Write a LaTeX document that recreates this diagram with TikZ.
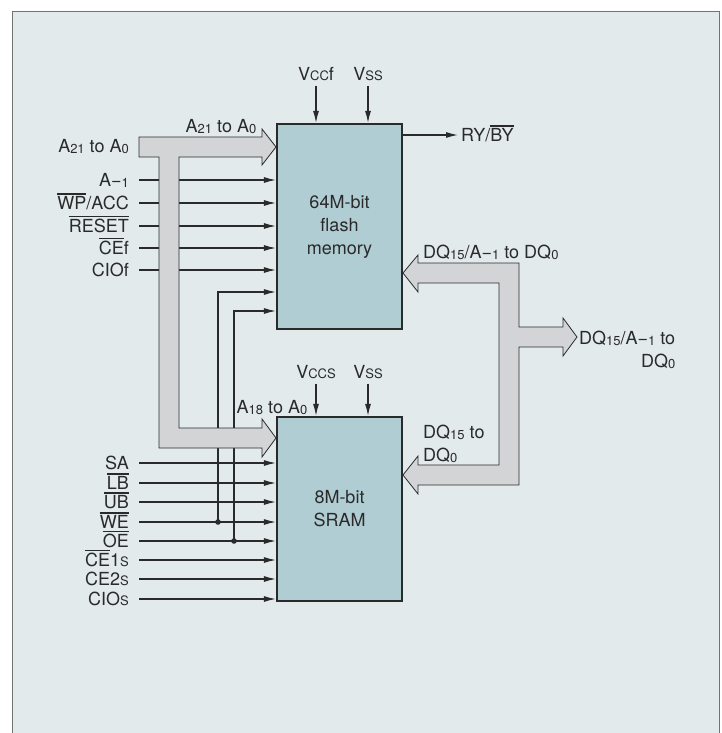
\documentclass[tikz,border=0pt]{standalone}
\usepackage{fontspec}
\setmainfont{TeX Gyre Heros}
\usetikzlibrary{arrows.meta,positioning,calc}
\definecolor{panel}{HTML}{E2EAEC}
\definecolor{chip}{HTML}{B0CDD3}
\definecolor{busgray}{HTML}{D3D4D6}
\definecolor{ink}{HTML}{2A2A2A}
\tikzset{>={Latex[length=12pt,width=6pt]}}
\newcommand{\lo}[1]{\raisebox{-1pt}{\fontsize{13}{13}\selectfont #1}}
\newcommand{\sm}[1]{{\fontsize{13}{13}\selectfont #1}}
\newcommand{\ovl}[1]{\leavevmode\vbox{\hrule height 1.1pt\kern 1.8pt\hbox{#1}}}
\newcommand{\mi}{\char"2212\relax}
\tikzset{
  chipbox/.style={draw=ink, line width=2.2pt, fill=chip, minimum width=125pt,
    inner sep=0pt, align=center, text=ink},
  sig/.style={->, draw=ink, line width=1.2pt},
  txt/.style={text=ink, inner sep=0pt, text height=13pt, text depth=0pt},
  pin/.style={txt, anchor=east},
  bus/.style={fill=busgray, draw=ink, line width=0.8pt}
}

\begin{document}
\begin{tikzpicture}[x=1pt,y=-1pt,font=\fontsize{18}{23}\selectfont]
  \useasboundingbox (0,0) rectangle (721,733);
  \clip (0,0) rectangle (721,733);
  \filldraw[fill=panel, draw=black!55, line width=0.8pt] (12,11) rectangle (719,745);

  % the two chips
  \node[chipbox, minimum height=205pt] (flash) at (339.5,226.5) {64M-bit\\flash\\memory};
  \node[chipbox, minimum height=184pt] (sram) at (339.5,509) {8M-bit\\SRAM};

  % control pins of the flash
  \foreach \name/\yy/\txt in {fa/180/{A\mi\lo{1}}, fwp/203/{\ovl{WP}/ACC},
      frst/226/{\ovl{RESET}}, fce/248/{\ovl{CE}f}, fcio/270/{CIOf}} {
    \node[pin] (\name) at (129,\yy) {\txt};
    \draw[sig] ([xshift=10pt]\name.east) -- (\name.east -| flash.west);
  }

  % control pins of the SRAM
  \foreach \name/\yy/\txt in {ssa/463/{SA}, slb/483/{\ovl{LB}}, sub/502/{\ovl{UB}},
      swe/522/{\ovl{WE}}, soe/541/{\ovl{OE}}, sce1/560/{\ovl{CE}1\sm{S}},
      sce2/579/{CE2\sm{S}}, scio/599/{CIO\sm{S}}} {
    \node[pin] (\name) at (129,\yy) {\txt};
    \draw[sig] ([xshift=10pt]\name.east) -- (\name.east -| sram.west);
  }

  % WE and OE shared with the flash
  \coordinate (jwe) at (swe.east -| 218,0);
  \coordinate (joe) at (soe.east -| 234,0);
  \coordinate (fwe) at (flash.west |- 0,292);
  \coordinate (foe) at (flash.west |- 0,311);
  \draw[sig] (jwe) |- (fwe);
  \draw[sig] (joe) |- (foe);
  \fill[ink] (jwe) circle (2.8pt) (joe) circle (2.8pt);

  % address bus
  \filldraw[bus] (139,137) -- (262,137) -- (262,129) -- (276,147) -- (262,165)
    -- (262,157) -- (179,157) -- (179,428) -- (262,428) -- (262,419) -- (276,438)
    -- (262,457) -- (262,448) -- (159,448) -- (159,157) -- (139,157) -- cycle;
  \node[pin] (ain) at (129,146) {A\lo{21} to A\lo{0}};
  \node[txt] (afl) at (221,126) {A\lo{21} to A\lo{0}};
  \node[txt] (asr) at (272,407) {A\lo{18} to A\lo{0}};

  % data bus
  \filldraw[bus] (403,273) -- (418,255) -- (418,263) -- (519,263) -- (519,327)
    -- (563,327) -- (563,318) -- (577,337) -- (563,356) -- (563,347) -- (519,347)
    -- (519,485) -- (418,485) -- (418,494) -- (403,475) -- (418,456) -- (418,465)
    -- (499,465) -- (499,283) -- (418,283) -- (418,292) -- cycle;
  \node[txt, anchor=west] (dqf) at (423,252) {DQ\lo{15}/A\mi\lo{1} to DQ\lo{0}};
  \node[text=ink, inner sep=0pt, align=right, anchor=west] (dqo) at (579,350)
    {DQ\lo{15}/A\mi\lo{1} to\\DQ\lo{0}};
  \node[text=ink, inner sep=0pt, align=left, anchor=west] (dqs) at (423,444)
    {DQ\lo{15} to\\DQ\lo{0}};

  % supplies and ready/busy
  \node[txt] (vccf) at (316,74) {V\sm{CC}f};
  \node[txt] (vssf) at (368,74) {V\sm{SS}};
  \node[txt] (vccs) at (316,372) {V\sm{CCS}};
  \node[txt] (vsss) at (368,372) {V\sm{SS}};
  \foreach \src/\dst in {vccf/flash, vssf/flash, vccs/sram, vsss/sram}
    \draw[sig] ([yshift=-5pt]\src.south) -- (\src.south |- \dst.north);
  \node[txt, anchor=west] (ry) at (461,135) {RY/\ovl{BY}};
  \draw[sig] (ry.west -| flash.east) -- ([xshift=-3pt]ry.west);
\end{tikzpicture}
\end{document}
